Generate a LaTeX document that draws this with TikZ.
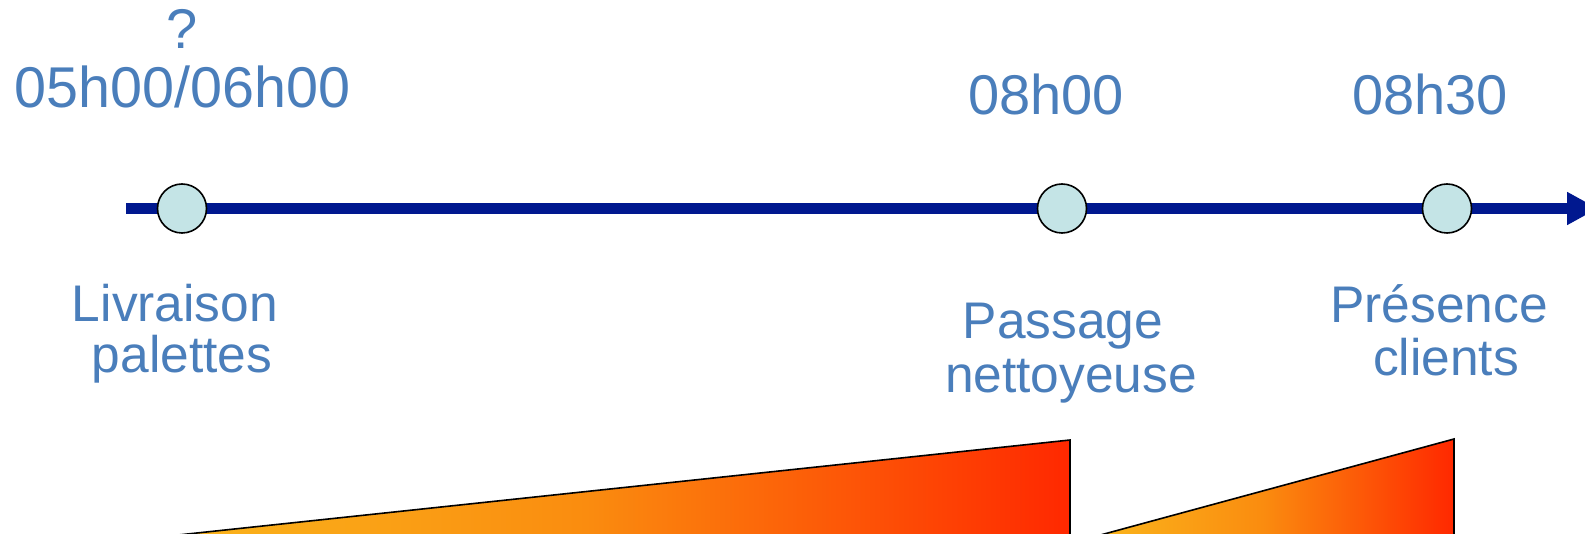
\documentclass[tikz,border=0pt]{standalone}
\usepackage{fontspec}
\setmainfont{Liberation Sans}
\usetikzlibrary{arrows.meta}
\definecolor{txtblue}{RGB}{74,126,187}
\definecolor{axisblue}{RGB}{0,24,143}
\definecolor{dotfill}{RGB}{196,228,230}
\definecolor{gyellow}{RGB}{250,188,30}
\definecolor{gorange}{RGB}{250,140,15}
\definecolor{gred}{RGB}{255,40,0}
\begin{document}
\begin{tikzpicture}[x=1pt,y=-1pt,
  timelbl/.style={text=txtblue,font=\fontsize{56}{60}\selectfont,anchor=base,inner sep=0pt},
  evlbl/.style={text=txtblue,font=\fontsize{51.5}{55}\selectfont,anchor=base,inner sep=0pt},
  dot/.style={circle,draw=black,line width=1.6pt,fill=dotfill,minimum size=49pt,inner sep=0pt},
  axisline/.style={draw=axisblue,line width=11pt,-{Triangle[length=31pt,width=31pt]}},
  wedge/.style={draw=black,line width=1.6pt,left color=gyellow,right color=gred,middle color=gorange}]
\fill[white] (0,0) rectangle (1585,534);
\begin{scope}
\clip (0,0) rectangle (1585,534);
% wedges
\draw[wedge] (103,543) -- (1070,440) -- (1070,545) -- cycle;
\draw[wedge] (1071,543) -- (1454,439) -- (1454,545) -- cycle;
% axis
\coordinate (axs) at (126,208.5);
\coordinate (axe) at (1598,208.5);
\draw[axisline] (axs) -- (axe);
\end{scope}
% dots
\node[dot] (d1) at (182,208.5) {};
\node[dot] (d2) at (1062,208.5) {};
\node[dot] (d3) at (1447,208.5) {};
% time labels
\node[timelbl] (q) at (182,49) {?};
\node[timelbl,font=\fontsize{57.5}{60}\selectfont] (t1) at (182.5,108) {05h00/06h00};
\node[timelbl] (t2) at (1046,115) {08h00};
\node[timelbl] (t3) at (1430,115) {08h30};
% event labels
\node[evlbl] (e1a) at (175,322) {Livraison};
\node[evlbl] (e1b) at (182,373) {palettes};
\node[evlbl] (e2a) at (1063,339) {Passage};
\node[evlbl] (e2b) at (1071,392) {nettoyeuse};
\node[evlbl] (e3a) at (1439,323) {Présence};
\node[evlbl] (e3b) at (1446,376) {clients};
\pgfresetboundingbox
\useasboundingbox (0,0) rectangle (1585,534);
\end{tikzpicture}
\end{document}
